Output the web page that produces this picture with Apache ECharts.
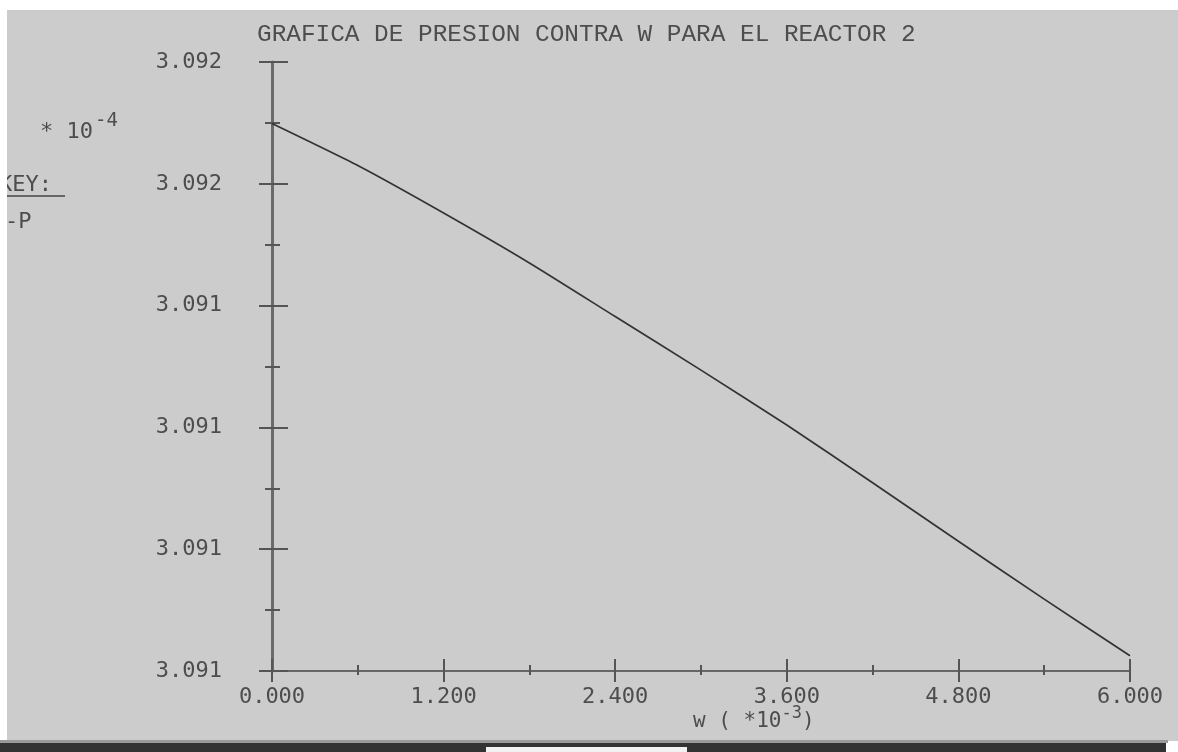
<!DOCTYPE html>
<html lang="es">
<head>
  <meta charset="UTF-8">
  <title>Grafica de presion contra W</title>
  <script src="https://cdn.jsdelivr.net/npm/echarts@6/dist/echarts.min.js"></script>
  <style>
    html, body {
      margin: 0;
      padding: 0;
      background: #fff;
    }
    #chart {
      width: 1178px;
      height: 752px;
    }
  </style>
</head>
<body>
  <div id="chart"></div>
  <script>
    // W (x10^-3) y presion P
    const wValues = [0, 0.6, 1.2, 1.8, 2.4, 3.0, 3.6, 4.2, 4.8, 5.4, 6.0]
    const pValues = [3.091899, 3.091830, 3.091752, 3.091670, 3.091582, 3.091494,
      3.091404, 3.091309, 3.091213, 3.091118, 3.091025]
    // etiquetas del eje y tal como salen impresas (de abajo hacia arriba)
    const yTickLabels = ['3.091', '3.091', '3.091', '3.091', '3.092', '3.092']

    const textColor = '#4d4d4d'
    const monoFont = 'DejaVu Sans Mono'

    const chart = echarts.init(document.getElementById('chart'))

    const yBase = { type: 'value', min: 3.0910, max: 3.0920, interval: 0.0002, position: 'left' }
    const xBase = { type: 'value', min: 0, max: 6, interval: 1.2, position: 'bottom' }

    chart.setOption({
      backgroundColor: '#fff',
      animation: false,
      title: {
        text: 'GRAFICA DE PRESION CONTRA W PARA EL REACTOR 2',
        left: 257,
        top: 23,
        padding: 0,
        textStyle: {
          fontFamily: 'Liberation Mono',
          fontSize: 24.4,
          fontWeight: 'normal',
          color: textColor
        }
      },
      grid: { left: 272, right: 48, top: 62, bottom: 81 },
      xAxis: [
        Object.assign({}, xBase, {
          axisLine: { lineStyle: { color: '#666', width: 2 } },
          axisTick: { show: true, length: 11, lineStyle: { color: '#555', width: 2 } },
          minorTick: { show: true, splitNumber: 2, length: 4, lineStyle: { color: '#555', width: 2 } },
          splitLine: { show: false },
          axisLabel: {
            margin: 15,
            fontFamily: monoFont,
            fontSize: 22,
            color: textColor,
            formatter: v => v.toFixed(3)
          }
        }),
        // ticks que cruzan el eje hacia arriba
        Object.assign({}, xBase, {
          axisLine: { show: false },
          axisTick: { show: true, inside: true, length: 12, lineStyle: { color: '#555', width: 2 } },
          minorTick: { show: true, splitNumber: 2, length: 6, lineStyle: { color: '#555', width: 2 } },
          splitLine: { show: false },
          axisLabel: { show: false }
        })
      ],
      yAxis: [
        Object.assign({}, yBase, {
          axisLine: { show: true, lineStyle: { color: '#6a6a6a', width: 3 } },
          axisTick: { show: true, length: 13, lineStyle: { color: '#555', width: 2 } },
          minorTick: { show: true, splitNumber: 2, length: 7, lineStyle: { color: '#555', width: 2 } },
          splitLine: { show: false },
          axisLabel: {
            margin: 50,
            fontFamily: monoFont,
            fontSize: 22,
            color: textColor,
            formatter: (v, i) => yTickLabels[i]
          }
        }),
        // ticks que cruzan el eje hacia la derecha
        Object.assign({}, yBase, {
          axisLine: { show: false },
          axisTick: { show: true, inside: true, length: 16, lineStyle: { color: '#555', width: 2 } },
          minorTick: { show: true, splitNumber: 2, length: 8, lineStyle: { color: '#555', width: 2 } },
          splitLine: { show: false },
          axisLabel: { show: false }
        })
      ],
      series: [
        {
          name: 'P',
          type: 'line',
          xAxisIndex: 0,
          yAxisIndex: 0,
          showSymbol: false,
          smooth: 0.2,
          lineStyle: { color: '#333', width: 1.7 },
          data: wValues.map((w, i) => [w, pValues[i]]),
          z: 3
        }
      ],
      graphic: [
        // fondo gris de la pantalla
        { type: 'rect', z: -10, shape: { x: 7, y: 10, width: 1171, height: 731 }, style: { fill: '#cccccc' } },
        { type: 'rect', z: -10, shape: { x: 0, y: 740, width: 1168, height: 3 }, style: { fill: '#9a9a9a' } },
        { type: 'rect', z: -10, shape: { x: 0, y: 743, width: 1166, height: 9 }, style: { fill: '#333' } },
        { type: 'rect', z: -9, shape: { x: 486, y: 747, width: 201, height: 5 }, style: { fill: '#f2f2f2' } },
        {
          type: 'text',
          left: 40,
          top: 112,
          style: {
            text: '{b|* 10}{s|-4}',
            rich: {
              b: { fontFamily: monoFont, fontSize: 22, fill: textColor, verticalAlign: 'bottom' },
              s: { fontFamily: monoFont, fontSize: 19, fill: textColor, verticalAlign: 'bottom', padding: [0, 0, 12, 2] }
            }
          }
        },
        {
          type: 'text',
          left: -1,
          top: 174,
          style: { text: 'KEY:', fontFamily: monoFont, fontSize: 22, fill: textColor }
        },
        { type: 'rect', shape: { x: 7, y: 195, width: 58, height: 2 }, style: { fill: '#666' } },
        {
          type: 'text',
          left: 5,
          top: 211,
          style: { text: '-P', fontFamily: monoFont, fontSize: 22, fill: textColor }
        },
        // borde blanco izquierdo que recorta la leyenda
        { type: 'rect', z: 100, shape: { x: 0, y: 0, width: 7, height: 740 }, style: { fill: '#fff' } },
        {
          type: 'text',
          left: 693,
          top: 705,
          style: {
            text: '{b|w ( *10}{s|-3}{b|)}',
            rich: {
              b: { fontFamily: monoFont, fontSize: 21, fill: textColor, verticalAlign: 'bottom' },
              s: { fontFamily: monoFont, fontSize: 17, fill: textColor, verticalAlign: 'bottom', padding: [0, 0, 10, 0] }
            }
          }
        }
      ]
    })

    window.addEventListener('resize', () => chart.resize())
  </script>
</body>
</html>
